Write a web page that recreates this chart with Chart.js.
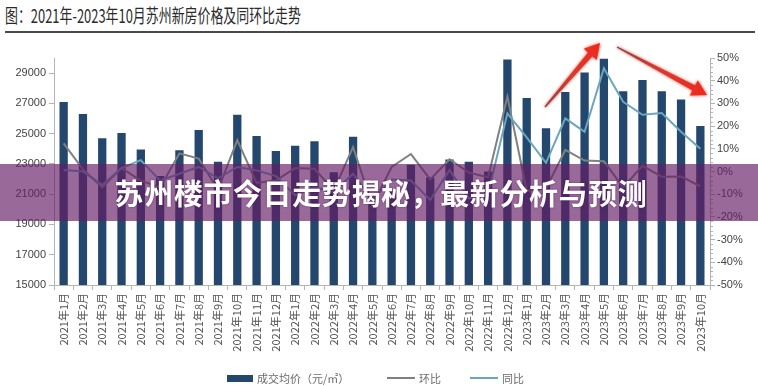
<!DOCTYPE html>
<html><head><meta charset="utf-8">
<script src="https://cdn.jsdelivr.net/npm/chart.js@4.4.0/dist/chart.umd.min.js"></script>
<style>
html,body{margin:0;padding:0;background:#fff;}
#wrap{position:relative;width:758px;height:386px;overflow:hidden;background:#fff;font-family:"Noto Sans CJK SC","Noto Sans",sans-serif;}
#title{position:absolute;left:5px;top:3px;font-size:19px;line-height:24px;color:#2a2a2a;white-space:nowrap;transform-origin:left top;transform:scaleX(0.68);}
#rule{position:absolute;left:5px;width:750px;top:31px;height:1.5px;background:#4a4a4a;}
#c{position:absolute;left:0;top:0;}
#banner{position:absolute;left:0;top:164px;width:758px;height:57px;background:rgba(100,28,100,0.66);}
#banner span{position:absolute;left:2px;width:758px;top:0;line-height:57px;text-align:center;color:#fff;font-weight:700;font-size:29px;letter-spacing:0.6px;text-shadow:0 0 2px rgba(60,0,60,0.6);}
.lg{position:absolute;font-size:11px;line-height:14px;color:#6a6a6a;white-space:nowrap;}
.sw{position:absolute;}
#arrows{position:absolute;left:0;top:0;}
</style>
</head><body>
<div id="wrap">
  <div id="title">图：2021年-2023年10月苏州新房价格及同环比走势</div>
  <div id="rule"></div>
  <canvas id="c" width="758" height="386"></canvas>
  <svg id="arrows" width="758" height="386"></svg>
  <div id="banner"><span>苏州楼市今日走势揭秘，最新分析与预测</span></div>
  <div class="sw" style="left:227px;top:375px;width:26px;height:7px;background:#24476e;"></div>
  <div class="lg" style="left:257px;top:371px;">成交均价（元/㎡）</div>
  <div class="sw" style="left:387px;top:377px;width:28px;height:2px;background:#808080;"></div>
  <div class="lg" style="left:419px;top:371px;">环比</div>
  <div class="sw" style="left:470px;top:377px;width:28px;height:2px;background:#6aa6bd;"></div>
  <div class="lg" style="left:502px;top:371px;">同比</div>
</div>
<script>
const months = ["2021年1月","2021年2月","2021年3月","2021年4月","2021年5月","2021年6月","2021年7月","2021年8月","2021年9月","2021年10月","2021年11月","2021年12月",
"2022年1月","2022年2月","2022年3月","2022年4月","2022年5月","2022年6月","2022年7月","2022年8月","2022年9月","2022年10月","2022年11月","2022年12月",
"2023年1月","2023年2月","2023年3月","2023年4月","2023年5月","2023年6月","2023年7月","2023年8月","2023年9月","2023年10月"];
const avgPrice = [27100,26300,24700,25050,23950,22200,23900,25250,23150,26250,24850,23850,
24200,24500,22450,24800,21000,21400,22950,22100,23300,23150,22500,29900,
27350,25350,27750,29050,29950,27800,28550,27800,27250,25500];
const momPct = [12.4,1,-7,1.5,-4,-7,8,5.7,-8,13.8,-5,-4,
1.5,1.2,-8.3,10.8,-15,2,7.7,-3.5,5.4,-0.5,-2.5,33,
-8.5,-7.5,9.5,4.8,4.5,-7,2.5,-2.3,-2.2,-6.5];
const yoyPct = [0.7,0,-6,1.5,5,-4,-1,2,-3,2,0.5,-2,
-10.5,-7,-9,-1,-12.5,-3.5,-4,-12.5,0.6,-11.8,-9.5,25.6,
15,3.8,23.4,17.5,45.5,30.7,25,25.8,17.5,10];
const priceTicks = [15000,17000,19000,21000,23000,25000,27000,29000];
const pctTicks = [-50,-40,-30,-20,-10,0,10,20,30,40,50];

const axisColor = '#b4b4b4';
const tickFont = {family:'"Liberation Sans", Arial, sans-serif', size:11};

const minorTicks = {
  id:'minorTicks',
  afterDraw(chart){
    const s = chart.scales.y1, ctx = chart.ctx;
    ctx.save(); ctx.strokeStyle = axisColor; ctx.lineWidth = 1;
    for (let v = -50; v <= 50; v += 2) {
      if (v % 10 === 0) continue;
      const y = Math.round(s.getPixelForValue(v)) + 0.5;
      ctx.beginPath(); ctx.moveTo(s.left, y); ctx.lineTo(s.left + 3, y); ctx.stroke();
    }
    ctx.restore();
  }
};

new Chart(document.getElementById('c'), {
  type:'bar',
  data:{
    labels: months,
    datasets:[
      {type:'line', label:'同比', data:yoyPct, yAxisID:'y1', borderColor:'#6aa6bd', borderWidth:2, pointRadius:0, tension:0, order:1},
      {type:'line', label:'环比', data:momPct, yAxisID:'y1', borderColor:'#808080', borderWidth:2, pointRadius:0, tension:0, order:2},
      {type:'bar', label:'成交均价（元/㎡）', data:avgPrice, yAxisID:'y', backgroundColor:'#24476e', barPercentage:0.43, categoryPercentage:1, order:3}
    ]
  },
  options:{
    responsive:false, animation:false,
    layout:{padding:{top:58,left:0,right:0,bottom:0}},
    plugins:{legend:{display:false}, tooltip:{enabled:false}},
    scales:{
      x:{
        grid:{display:true, drawOnChartArea:false, offset:true, color:axisColor, tickLength:5},
        border:{color:axisColor},
        ticks:{autoSkip:false, maxRotation:90, minRotation:90, padding:3, color:'#555', font:{family:'"Noto Sans CJK SC", sans-serif', size:11}},
        afterFit(s){ s.height = 101; }
      },
      y:{
        position:'left', min:15000, max:30000,
        grid:{drawOnChartArea:false, color:axisColor, tickLength:5},
        border:{color:axisColor},
        ticks:{color:'#444', font:tickFont, padding:3, callback:v=>String(v)},
        afterBuildTicks(s){ s.ticks = priceTicks.map(v=>({value:v})); },
        afterFit(s){ s.width = 54; }
      },
      y1:{
        position:'right', min:-50, max:50,
        grid:{drawOnChartArea:false, color:axisColor, tickLength:5},
        border:{color:axisColor},
        ticks:{color:'#444', font:tickFont, padding:2, callback:v=>v+'%'},
        afterBuildTicks(s){ s.ticks = pctTicks.map(v=>({value:v})); },
        afterFit(s){ s.width = 48; }
      }
    }
  },
  plugins:[minorTicks]
});

// decorative red arrows
(function(){
  const svg = document.getElementById('arrows');
  const ns = 'http://www.w3.org/2000/svg';
  const defs = document.createElementNS(ns,'defs');
  defs.innerHTML = '<filter id="glow" x="-20%" y="-20%" width="140%" height="140%"><feGaussianBlur stdDeviation="1.6" result="b"/><feMerge><feMergeNode in="b"/><feMergeNode in="SourceGraphic"/></feMerge></filter>';
  svg.appendChild(defs);
  function arrow(x1,y1,x2,y2,id){
    const dx=x2-x1, dy=y2-y1, L=Math.hypot(dx,dy), ux=dx/L, uy=dy/L, nx=-uy, ny=ux;
    const hl=15, w0=1.2, w1=5.5, hw=8.5;
    const px=x2-ux*hl, py=y2-uy*hl;
    const pts=[[x1+nx*w0/2,y1+ny*w0/2],[px+nx*w1/2,py+ny*w1/2],[px+nx*hw,py+ny*hw],[x2,y2],[px-nx*hw,py-ny*hw],[px-nx*w1/2,py-ny*w1/2],[x1-nx*w0/2,y1-ny*w0/2]];
    const g = document.createElementNS(ns,'linearGradient');
    g.setAttribute('id',id); g.setAttribute('gradientUnits','userSpaceOnUse');
    g.setAttribute('x1',x1); g.setAttribute('y1',y1); g.setAttribute('x2',x2); g.setAttribute('y2',y2);
    g.innerHTML='<stop offset="0" stop-color="#9a3a3a"/><stop offset="0.5" stop-color="#d83a2c"/><stop offset="1" stop-color="#f0291c"/>';
    defs.appendChild(g);
    const p = document.createElementNS(ns,'polygon');
    p.setAttribute('points', pts.map(a=>a[0].toFixed(1)+','+a[1].toFixed(1)).join(' '));
    p.setAttribute('fill','url(#'+id+')'); p.setAttribute('filter','url(#glow)');
    svg.appendChild(p);
  }
  arrow(545,107,600,43,'g1');
  arrow(617,47,707,95,'g2');
})();
</script>
</body></html>
